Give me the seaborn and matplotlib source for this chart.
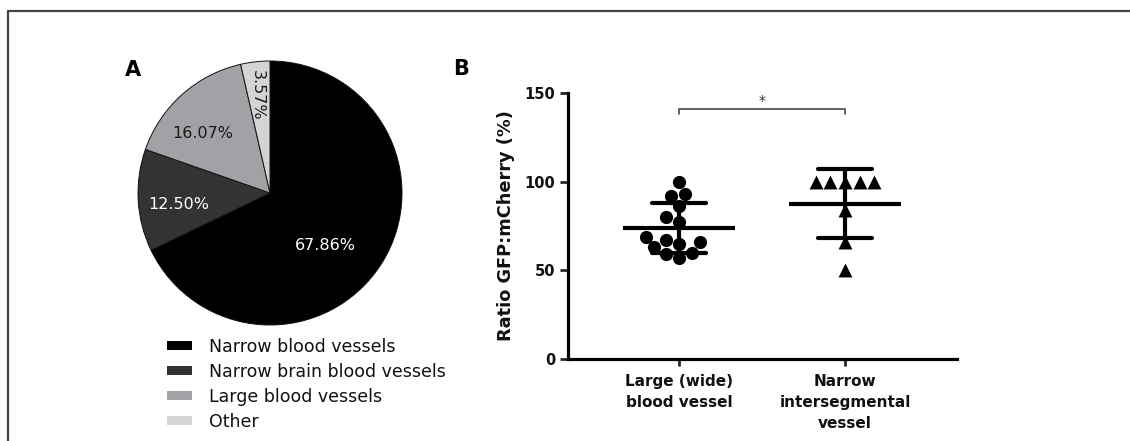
import matplotlib
matplotlib.use("Agg")
import matplotlib.pyplot as plt
from matplotlib.patches import Patch
import seaborn as sns
import pandas as pd
import numpy as np

# ---------------- data ----------------
pie_labels = ["Narrow blood vessels", "Narrow brain blood vessels", "Large blood vessels", "Other"]
pie_values = [67.86, 12.50, 16.07, 3.57]
pie_colors = ["#000000", "#333333", "#a2a2a6", "#d4d4d4"]
pie_text_colors = ["white", "white", "#1a1a1a", "#1a1a1a"]

groups = ["Large (wide)\nblood vessel", "Narrow\nintersegmental\nvessel"]
large_vals = [100, 93, 92, 86, 80, 77, 69, 67, 66, 65, 63, 60, 59, 57]
narrow_vals = [100, 100, 100, 100, 100, 84, 66, 50]
y_ticks = [0, 50, 100, 150]
y_label = "Ratio GFP:mCherry (%)"

df = pd.DataFrame({
    "group": [groups[0]] * len(large_vals) + [groups[1]] * len(narrow_vals),
    "ratio": large_vals + narrow_vals,
})

# ---------------- style ----------------
sns.set_style("white")
plt.rcParams["font.family"] = ["DejaVu Sans"]

W, H = 1130, 441
fig = plt.figure(figsize=(W / 100, H / 100), dpi=100)

# outer frame (left + top only)
fig.add_artist(plt.Line2D([8 / W, 8 / W], [0, 1 - 11 / H], color="#444444", lw=1.6))
fig.add_artist(plt.Line2D([8 / W, 1], [1 - 11 / H, 1 - 11 / H], color="#444444", lw=1.6))

# ---------------- panel A: pie ----------------
cx, cy, R = 270, 193, 132
side = 2.5 * R
axA = fig.add_axes([(cx - side / 2) / W, (H - cy - side / 2) / H, side / W, side / H])
wedges, _ = axA.pie(pie_values, colors=pie_colors, startangle=90, counterclock=False,
                    wedgeprops=dict(edgecolor="#111111", linewidth=0.7))
axA.set_aspect("equal")

label_dist = [0.58, 0.70, 0.68, 0.75]
label_shift = [-11, 4, 7, 1]
for w, v, tc, d, sh in zip(wedges, pie_values, pie_text_colors, label_dist, label_shift):
    mid = np.deg2rad((w.theta1 + w.theta2) / 2 + sh)
    rot = 270 if v < 5 else 0
    axA.text(d * np.cos(mid), d * np.sin(mid), f"{v:.2f}%", color=tc, fontsize=11.5,
             ha="center", va="center", rotation=rot)

handles = [Patch(facecolor=c, edgecolor="none") for c in pie_colors]
axA.legend(handles, pie_labels, loc="upper left", bbox_to_anchor=(167 / W, 1 - 338 / H),
           bbox_transform=fig.transFigure, frameon=False, fontsize=12.5,
           handlelength=1.45, handleheight=0.45, handletextpad=0.95,
           labelspacing=0.4, borderpad=0, borderaxespad=0, labelcolor="#111111")

fig.text(133 / W, 1 - 70 / H, "A", fontsize=15, fontweight="bold", ha="center", va="center",
         color="black")
fig.text(461 / W, 1 - 69 / H, "B", fontsize=15, fontweight="bold", ha="center", va="center",
         color="black")

# ---------------- panel B: scatter with mean ± SD ----------------
x0, x1, ytop, ybot = 568, 957, 93, 359
axB = fig.add_axes([x0 / W, (H - ybot) / H, (x1 - x0) / W, (ybot - ytop) / H])

sns.swarmplot(data=df[df.group == groups[0]], x="group", y="ratio", order=groups,
              marker="o", color="black", size=9.5, ax=axB, zorder=2)
sns.swarmplot(data=df[df.group == groups[1]], x="group", y="ratio", order=groups,
              marker="^", color="black", size=10, ax=axB, zorder=2)
sns.pointplot(data=df, x="group", y="ratio", order=groups, errorbar="sd",
              capsize=0.33, linestyle="none", markers="_", markersize=80,
              markeredgewidth=3, color="black", err_kws={"linewidth": 3}, ax=axB,
              zorder=3)

axB.set_xlim(-0.669, 1.675)
axB.set_ylim(0, 150)
axB.set_yticks(y_ticks)
axB.set_xticks([0, 1])
axB.set_xticklabels(groups, fontsize=11, fontweight="bold", linespacing=1.5, color="#111111")
axB.set_yticklabels([str(t) for t in y_ticks], fontsize=10.5, fontweight="bold", color="#111111")
axB.set_xlabel("")
axB.set_ylabel(y_label, fontsize=12.8, fontweight="bold", labelpad=7, color="#111111")

for s in ["top", "right"]:
    axB.spines[s].set_visible(False)
for s in ["left", "bottom"]:
    axB.spines[s].set_linewidth(2.3)
    axB.spines[s].set_color("black")
axB.tick_params(axis="y", direction="out", length=6, width=2, pad=3, left=True)
axB.tick_params(axis="x", direction="out", length=5, width=2, pad=6, bottom=True)

# significance bracket
axB.plot([0, 0, 1, 1], [138, 141, 141, 138], color="#555555", lw=1.3, clip_on=False)
axB.text(0.5, 141.6, "*", ha="center", va="bottom", fontsize=10, color="#333333")

fig.savefig("out.png", dpi=100)
